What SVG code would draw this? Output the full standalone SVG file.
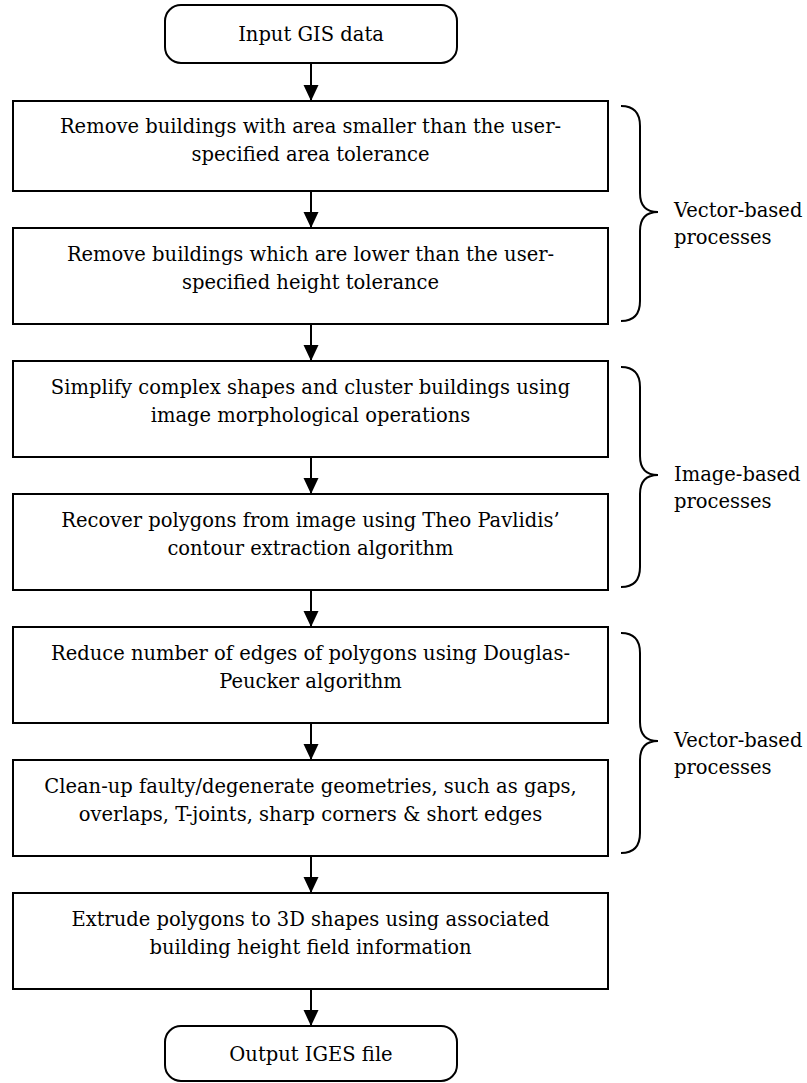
<svg xmlns="http://www.w3.org/2000/svg" width="807" height="1083" viewBox="0 0 807 1083">
<style>
.box{fill:#fff;stroke:#000;stroke-width:2}
.t{font-family:"DejaVu Serif","Liberation Serif",serif;font-size:19.5px;fill:#000;text-anchor:middle}
.l{font-family:"DejaVu Serif","Liberation Serif",serif;font-size:19.5px;fill:#000}
.c{stroke:#000;stroke-width:2;fill:none}
.br{stroke:#000;stroke-width:2;fill:none}
</style>
<defs>
<marker id="ah" markerWidth="16" markerHeight="16" refX="16" refY="8" orient="auto" markerUnits="userSpaceOnUse">
<path d="M0,0.5 L16,8 L0,15.5 Z" fill="#000"/>
</marker>
</defs>
<g id="connectors">
<line class="c" x1="311" y1="63" x2="311" y2="101" marker-end="url(#ah)"/>
<line class="c" x1="311" y1="191" x2="311" y2="228" marker-end="url(#ah)"/>
<line class="c" x1="311" y1="324" x2="311" y2="361" marker-end="url(#ah)"/>
<line class="c" x1="311" y1="457" x2="311" y2="494" marker-end="url(#ah)"/>
<line class="c" x1="311" y1="590" x2="311" y2="627" marker-end="url(#ah)"/>
<line class="c" x1="311" y1="723" x2="311" y2="760" marker-end="url(#ah)"/>
<line class="c" x1="311" y1="856" x2="311" y2="893" marker-end="url(#ah)"/>
<line class="c" x1="311" y1="989" x2="311" y2="1026" marker-end="url(#ah)"/>
</g>
<g id="input"><rect class="box" x="165" y="5" width="292" height="58" rx="16"/><text class="t" x="311" y="41">Input GIS data</text></g>
<g id="step1"><rect class="box" x="13" y="101" width="595" height="90"/><text class="t" x="310.5" y="133">Remove buildings with area smaller than the user-</text><text class="t" x="310.5" y="161">specified area tolerance</text></g>
<g id="step2"><rect class="box" x="13" y="228" width="595" height="96"/><text class="t" x="310.5" y="261">Remove buildings which are lower than the user-</text><text class="t" x="310.5" y="289">specified height tolerance</text></g>
<g id="step3"><rect class="box" x="13" y="361" width="595" height="96"/><text class="t" x="310.5" y="394">Simplify complex shapes and cluster buildings using</text><text class="t" x="310.5" y="422">image morphological operations</text></g>
<g id="step4"><rect class="box" x="13" y="494" width="595" height="96"/><text class="t" x="310.5" y="527">Recover polygons from image using Theo Pavlidis’</text><text class="t" x="310.5" y="555">contour extraction algorithm</text></g>
<g id="step5"><rect class="box" x="13" y="627" width="595" height="96"/><text class="t" x="310.5" y="660">Reduce number of edges of polygons using Douglas-</text><text class="t" x="310.5" y="688">Peucker algorithm</text></g>
<g id="step6"><rect class="box" x="13" y="760" width="595" height="96"/><text class="t" x="310.5" y="793">Clean-up faulty/degenerate geometries, such as gaps,</text><text class="t" x="310.5" y="821">overlaps, T-joints, sharp corners &amp; short edges</text></g>
<g id="step7"><rect class="box" x="13" y="893" width="595" height="96"/><text class="t" x="310.5" y="926">Extrude polygons to 3D shapes using associated</text><text class="t" x="310.5" y="954">building height field information</text></g>
<g id="output"><rect class="box" x="165" y="1026" width="292" height="55" rx="16"/><text class="t" x="311" y="1061">Output IGES file</text></g>
<g id="group1"><path class="br" d="M621,106 Q640,106 640,126 L640,193 Q640,212 658,212 Q640,212 640,231 L640,301 Q640,321 621,321"/><text class="l" x="674" y="217">Vector-based</text><text class="l" x="674" y="244">processes</text></g>
<g id="group2"><path class="br" d="M621,367 Q640,367 640,387 L640,456 Q640,475 658,475 Q640,475 640,494 L640,567 Q640,587 621,587"/><text class="l" x="674" y="481">Image-based</text><text class="l" x="674" y="508">processes</text></g>
<g id="group3"><path class="br" d="M621,633 Q640,633 640,653 L640,722 Q640,741 658,741 Q640,741 640,760 L640,833 Q640,853 621,853"/><text class="l" x="674" y="747">Vector-based</text><text class="l" x="674" y="774">processes</text></g>
</svg>
